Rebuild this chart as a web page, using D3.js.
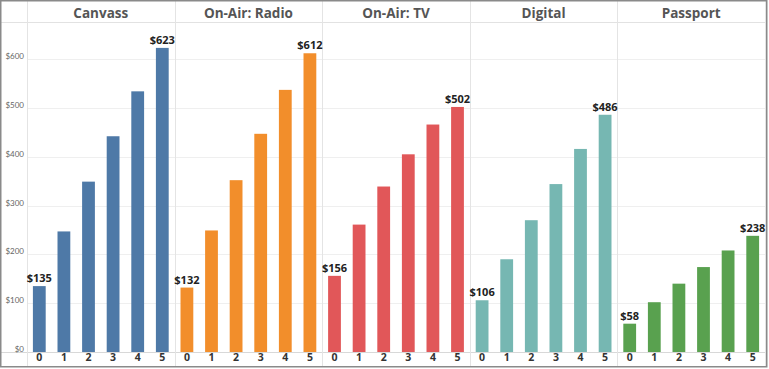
<!DOCTYPE html>
<html><head><meta charset="utf-8">
<script src="https://cdn.jsdelivr.net/npm/d3@7"></script>
<style>html,body{margin:0;padding:0;background:#fff;}svg{display:block;}</style>
</head><body>
<svg id="c" width="769" height="369"></svg>
<script>
const categories = ["0","1","2","3","4","5"];
const channels = ["Canvass","On-Air: Radio","On-Air: TV","Digital","Passport"];
const canvassValues = [135, 247, 349, 442, 534, 623];
const radioValues = [132, 249, 352, 447, 537, 612];
const tvValues = [156, 261, 339, 405, 466, 502];
const digitalValues = [106, 190, 270, 344, 416, 486];
const passportValues = [58, 102, 140, 174, 208, 238];
const colors = ["#4e79a7", "#f28e2b", "#e15759", "#76b7b2", "#59a14f"];
const yTicks = [0, 100, 200, 300, 400, 500, 600];

(function () {
const series = [canvassValues, radioValues, tvValues, digitalValues, passportValues];
const W = 769, H = 369;
const svg = d3.select("#c");
const plotLeft = 27, plotRight = 765, plotTop = 23, base = 352, axisBottom = 366;

const y = d3.scaleLinear().domain([0, 674]).range([base, plotTop]);
const px = d3.scaleBand().domain(channels).range([plotLeft, plotRight]);
const bx = d3.scaleBand().domain(categories).range([0, px.bandwidth()]).paddingInner(0.48).paddingOuter(0.24);

// gridlines
svg.append("g").selectAll("line").data(yTicks.filter(d => d > 0)).join("line")
  .attr("x1", plotLeft).attr("x2", plotRight)
  .attr("y1", d => Math.round(y(d)) + 0.5).attr("y2", d => Math.round(y(d)) + 0.5)
  .attr("stroke", "#efefef").attr("stroke-width", 1);

// header line
svg.append("line").attr("x1", 0).attr("x2", plotRight).attr("y1", plotTop - 0.5).attr("y2", plotTop - 0.5)
  .attr("stroke", "#e2e2e2");
// axis line bottom
svg.append("line").attr("x1", 0).attr("x2", plotRight).attr("y1", base + 0.5).attr("y2", base + 0.5)
  .attr("stroke", "#d8d8d8");

// panel separators
svg.append("g").selectAll("line").data(channels.concat(["__end"])).join("line")
  .attr("x1", (d, i) => i < channels.length ? Math.round(px(d)) + 0.5 : plotRight + 0.5)
  .attr("x2", (d, i) => i < channels.length ? Math.round(px(d)) + 0.5 : plotRight + 0.5)
  .attr("y1", 0).attr("y2", axisBottom)
  .attr("stroke", "#e4e4e4");

// y axis
const yAxis = d3.axisLeft(y).tickValues(yTicks).tickFormat(d => "$" + d).tickSize(0).tickPadding(0);
const ya = svg.append("g").attr("transform", `translate(24,-3)`).call(yAxis);
ya.select(".domain").remove();
ya.selectAll("text").attr("font-family", "Lato, 'Open Sans', sans-serif").attr("font-size", 8).attr("fill", "#666");

// panels
channels.forEach((ch, ci) => {
  const g = svg.append("g").attr("transform", `translate(${px(ch)},0)`);
  g.append("text").attr("x", px.bandwidth() / 2).attr("y", 18)
    .attr("text-anchor", "middle").attr("font-family", "'Open Sans', sans-serif")
    .attr("font-weight", "bold").attr("font-size", 13.5).attr("fill", "#555").text(ch);
  const vals = series[ci];
  g.selectAll("rect").data(vals).join("rect")
    .attr("x", (d, i) => bx(categories[i]))
    .attr("width", bx.bandwidth())
    .attr("y", d => y(d))
    .attr("height", d => base - y(d))
    .attr("fill", colors[ci]);
  const xa = g.append("g").attr("transform", `translate(0,${base})`)
    .call(d3.axisBottom(bx).tickSize(0).tickPadding(2));
  xa.select(".domain").remove();
  xa.selectAll("text").attr("font-family", "'Open Sans', sans-serif").attr("font-weight", "bold")
    .attr("font-size", 10.5).attr("fill", "#333");
  [0, vals.length - 1].forEach(i => {
    g.append("text").attr("x", bx(categories[i]) + bx.bandwidth() / 2).attr("y", y(vals[i]) - 4)
      .attr("text-anchor", "middle").attr("font-family", "'Open Sans', sans-serif")
      .attr("font-weight", "bold").attr("font-size", 11).attr("fill", "#222").text("$" + vals[i]);
  });
});

// outer frame
svg.append("rect").attr("x", 0.75).attr("y", 0.75).attr("width", W - 3).attr("height", H - 3)
  .attr("fill", "none").attr("stroke", "#8a8a8a").attr("stroke-width", 1.5);
})();
</script>
</body></html>
